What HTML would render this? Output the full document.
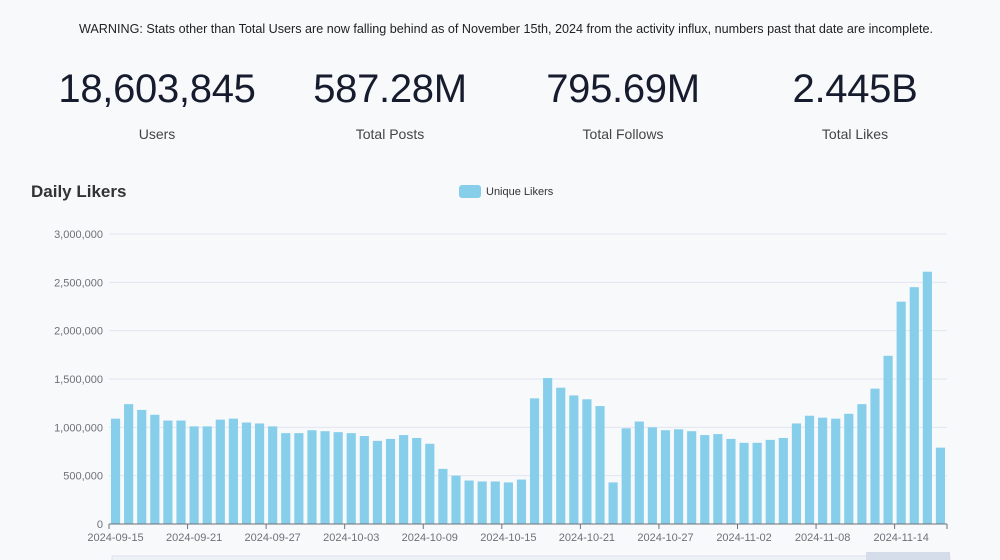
<!DOCTYPE html>
<html><head><meta charset="utf-8"><style>
body{margin:0;width:1000px;height:560px;overflow:hidden;background:#f8f9fb;font-family:"Liberation Sans",sans-serif;color:#1a2035}
.warn{position:absolute;top:22px;left:0;width:1012px;text-align:center;font-size:12.6px;color:#222}
.stat{position:absolute;top:66px;width:240px;text-align:center}
.stat .v{font-size:40px;color:#161c2d;letter-spacing:-0.3px;line-height:46px}
.stat .l{font-size:14px;color:#444;margin-top:14px}
</style></head><body>
<div class="warn">WARNING: Stats other than Total Users are now falling behind as of November 15th, 2024 from the activity influx, numbers past that date are incomplete.</div>
<div class="stat" style="left:37px"><div class="v">18,603,845</div><div class="l">Users</div></div>
<div class="stat" style="left:270px"><div class="v">587.28M</div><div class="l">Total Posts</div></div>
<div class="stat" style="left:503px"><div class="v">795.69M</div><div class="l">Total Follows</div></div>
<div class="stat" style="left:735px"><div class="v">2.445B</div><div class="l">Total Likes</div></div>
<svg id="chart" width="1000" height="560" style="position:absolute;left:0;top:0">
<text x="31" y="197" font-size="17" font-weight="bold" fill="#333">Daily Likers</text>
<g><rect x="459" y="185" width="22" height="13" rx="3" fill="#87ceeb"/><text x="486" y="195" font-size="11" fill="#333">Unique Likers</text></g>
<g id="grid"></g><g id="bars"></g><g id="xax"></g>
<rect x="112" y="556" width="838" height="10" fill="#eef1f7" stroke="#dde3ee"/>
<rect x="866" y="552" width="84" height="14" fill="#d5dcea"/>
</svg>
<script>
const startDate = "2024-09-15";
const values = [1.09,1.24,1.18,1.13,1.07,1.07,1.01,1.01,1.08,1.09,1.05,1.04,1.01,0.94,0.94,0.97,
0.96,0.95,0.94,0.91,0.86,0.88,0.92,0.89,0.83,0.57,0.50,0.45,0.44,0.44,0.43,0.46,1.30,1.51,1.41,1.33,1.29,1.22,0.43,0.99,1.06,1.00,0.97,0.98,0.96,0.92,0.93,
0.88,0.84,0.84,0.87,0.89,1.04,1.12,1.10,1.09,1.14,1.24,1.40,1.74,2.30,2.45,2.61,0.79].map(v=>v*1e6);
const yTicks = [0,500000,1000000,1500000,2000000,2500000,3000000];
const ns="http://www.w3.org/2000/svg";
const X0=109,X1=947,Y0=524,Y1=234,YMAX=3000000;
const band=(X1-X0)/values.length;
const y=v=>Y0-(v/YMAX)*(Y0-Y1);
const x=i=>X0+i*band;
function mk(t,a,p){const e=document.createElementNS(ns,t);for(const k in a)e.setAttribute(k,a[k]);p.appendChild(e);return e;}
const grid=document.getElementById('grid'),bars=document.getElementById('bars'),xax=document.getElementById('xax');
yTicks.forEach(t=>{
  if(t>0){const l=mk('line',{x1:X0,x2:X1,y1:y(t),y2:y(t),stroke:'#e0e6f1'},grid);
  
  }
  const tx=mk('text',{x:X0-6,y:y(t)+4,'text-anchor':'end','font-size':11,fill:'#6e7079'},grid);
  tx.textContent=t.toLocaleString('en-US');
  
  
});
values.forEach((v,i)=>{
  const r=mk('rect',{x:x(i)+band*0.15,y:y(v),width:band*0.7,height:Y0-y(v),fill:'#87ceeb'},bars);
  
  
});
const ax=mk('line',{x1:X0,x2:X1,y1:Y0,y2:Y0,stroke:'#6e7079'},xax);


const d0=new Date(startDate+"T00:00:00Z");
for(let i=0;i<=values.length;i++){
  if(i%6===0||i===values.length) mk('line',{x1:x(i),x2:x(i),y1:Y0,y2:Y0+5,stroke:'#6e7079'},xax);
  if(i%6===0&&i<values.length){
    const d=new Date(d0.getTime()+i*86400000).toISOString().slice(0,10);
    const tx=mk('text',{x:x(i)+band/2,y:Y0+17,'text-anchor':'middle','font-size':11,fill:'#6e7079'},xax);
    tx.textContent=d;
    
    
  }
}
</script>
</body></html>
